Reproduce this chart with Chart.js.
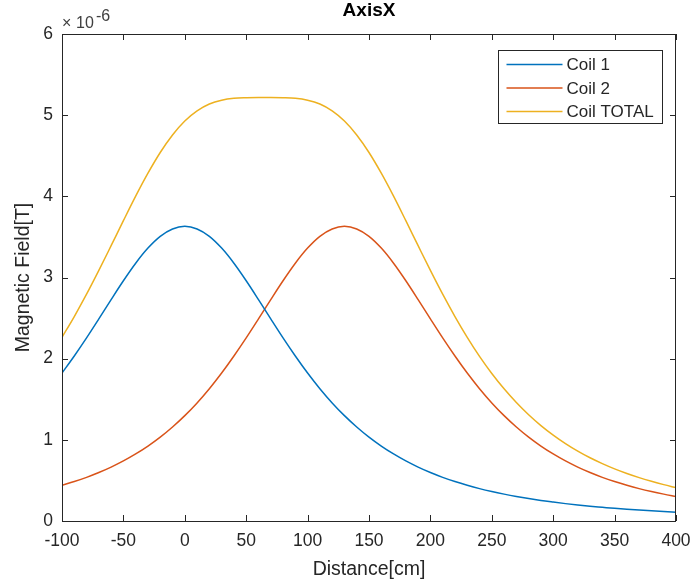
<!DOCTYPE html>
<html>
<head>
<meta charset="utf-8">
<script src="https://cdn.jsdelivr.net/npm/chart.js@4/dist/chart.umd.min.js"></script>
<style>
  html, body { margin: 0; padding: 0; background: #fff; }
  canvas { display: block; }
</style>
</head>
<body>
<canvas id="chart" width="695" height="586"></canvas>
<script>
// distance along the axis [cm], field in units of 1e-6 T
const distance = [
  -100, -90, -80, -70, -60, -50, -40, -30, -20, -10,
  0, 10, 20, 30, 40, 50, 60, 70, 80, 90,
  100, 110, 120, 130, 140, 150, 160, 170, 180, 190,
  200, 210, 220, 230, 240, 250, 260, 270, 280, 290,
  300, 310, 320, 330, 340, 350, 360, 370, 380, 390, 400,
];
const coil1 = [
  1.823, 2.033, 2.256, 2.490, 2.728, 2.960, 3.176, 3.362, 3.507, 3.598,
  3.630, 3.598, 3.507, 3.362, 3.176, 2.960, 2.728, 2.490, 2.256, 2.033,
  1.823, 1.630, 1.455, 1.298, 1.158, 1.033, 0.923, 0.826, 0.740, 0.664,
  0.597, 0.538, 0.486, 0.440, 0.399, 0.363, 0.331, 0.302, 0.276, 0.253,
  0.233, 0.214, 0.197, 0.182, 0.169, 0.156, 0.145, 0.135, 0.126, 0.117, 0.109,
];
const coil2 = [
  0.440, 0.486, 0.538, 0.597, 0.664, 0.740, 0.826, 0.923, 1.033, 1.158,
  1.298, 1.455, 1.630, 1.823, 2.033, 2.256, 2.490, 2.728, 2.960, 3.176,
  3.362, 3.507, 3.598, 3.630, 3.598, 3.507, 3.362, 3.176, 2.960, 2.728,
  2.490, 2.256, 2.033, 1.823, 1.630, 1.455, 1.298, 1.158, 1.033, 0.923,
  0.826, 0.740, 0.664, 0.597, 0.538, 0.486, 0.440, 0.399, 0.363, 0.331, 0.302,
];
const coilTotal = [
  2.263, 2.519, 2.794, 3.087, 3.392, 3.700, 4.002, 4.285, 4.540, 4.756,
  4.928, 5.053, 5.137, 5.185, 5.209, 5.216, 5.218, 5.218, 5.216, 5.209,
  5.185, 5.137, 5.053, 4.928, 4.756, 4.540, 4.285, 4.002, 3.700, 3.392,
  3.087, 2.794, 2.519, 2.263, 2.029, 1.818, 1.629, 1.460, 1.309, 1.176,
  1.059, 0.954, 0.861, 0.779, 0.707, 0.642, 0.585, 0.534, 0.489, 0.448, 0.411,
];

const seriesLabels = ['Coil 1', 'Coil 2', 'Coil TOTAL'];
const seriesColors = ['#0072BD', '#D95319', '#EDB120'];
const seriesValues = [coil1, coil2, coilTotal];

const AXIS_COLOR = '#262626';
const FONT = '"Liberation Sans", Arial, Helvetica, sans-serif';

const toPoints = (values) => distance.map((x, i) => ({ x, y: values[i] }));

// white page, MATLAB style box with inward ticks, exponent label, title and legend
const matlabAxes = {
  id: 'matlabAxes',
  beforeDraw(chart) {
    const { ctx } = chart;
    ctx.save();
    ctx.fillStyle = '#fff';
    ctx.fillRect(0, 0, chart.width, chart.height);
    ctx.restore();
  },
  afterDraw(chart) {
    const { ctx, chartArea: area } = chart;
    const xScale = chart.scales.x;
    const yScale = chart.scales.y;
    const tick = 6;

    ctx.save();
    ctx.strokeStyle = AXIS_COLOR;
    ctx.lineWidth = 1;
    ctx.beginPath();
    xScale.ticks.forEach((t) => {
      const px = Math.round(xScale.getPixelForValue(t.value)) + 0.5;
      ctx.moveTo(px, area.bottom);
      ctx.lineTo(px, area.bottom - tick);
      ctx.moveTo(px, area.top);
      ctx.lineTo(px, area.top + tick);
    });
    yScale.ticks.forEach((t) => {
      const py = Math.round(yScale.getPixelForValue(t.value)) + 0.5;
      ctx.moveTo(area.left, py);
      ctx.lineTo(area.left + tick, py);
      ctx.moveTo(area.right, py);
      ctx.lineTo(area.right - tick, py);
    });
    ctx.stroke();
    ctx.strokeRect(area.left + 0.5, area.top + 0.5, area.right - area.left - 1, area.bottom - area.top);

    // exponent label
    ctx.fillStyle = '#404040';
    ctx.textBaseline = 'alphabetic';
    ctx.textAlign = 'left';
    ctx.font = `16px ${FONT}`;
    ctx.fillText('\u00d7', area.left, area.top - 6);
    ctx.fillText('10', area.left + 14, area.top - 6);
    ctx.fillText('-6', area.left + 34, area.top - 13);

    // title
    ctx.fillStyle = '#000';
    ctx.textAlign = 'center';
    ctx.textBaseline = 'middle';
    ctx.font = `bold 19px ${FONT}`;
    ctx.fillText('AxisX', (area.left + area.right) / 2, 11);

    // legend box, top right inside the axes
    const lw = 164;
    const lh = 73;
    const lx = Math.round(area.right - 14 - lw) + 0.5;
    const ly = Math.round(area.top + 16) + 0.5;
    ctx.fillStyle = '#fff';
    ctx.fillRect(lx, ly, lw, lh);
    ctx.strokeStyle = AXIS_COLOR;
    ctx.strokeRect(lx, ly, lw, lh);
    ctx.font = `17px ${FONT}`;
    ctx.textAlign = 'left';
    chart.data.datasets.forEach((ds, i) => {
      const rowY = ly + 14 + i * 23.5;
      ctx.strokeStyle = ds.borderColor;
      ctx.lineWidth = 1.5;
      ctx.beginPath();
      ctx.moveTo(lx + 8, rowY);
      ctx.lineTo(lx + 64, rowY);
      ctx.stroke();
      ctx.fillStyle = AXIS_COLOR;
      ctx.fillText(ds.label, lx + 68, rowY + 1);
    });
    ctx.restore();
  },
};

new Chart(document.getElementById('chart'), {
  type: 'line',
  data: {
    datasets: seriesValues.map((values, i) => ({
      label: seriesLabels[i],
      data: toPoints(values),
      borderColor: seriesColors[i],
      backgroundColor: seriesColors[i],
      borderWidth: 1.5,
      pointRadius: 0,
      cubicInterpolationMode: 'monotone',
      fill: false,
    })),
  },
  options: {
    responsive: false,
    animation: false,
    events: [],
    layout: { padding: { top: 34, right: 19, left: 0, bottom: 0 } },
    plugins: {
      legend: { display: false },
      title: { display: false },
      tooltip: { enabled: false },
    },
    scales: {
      x: {
        type: 'linear',
        min: -100,
        max: 400,
        afterFit(scale) {
          scale.height = 65;
          scale.paddingLeft = 0;
          scale.paddingRight = 0;
        },
        ticks: {
          stepSize: 50,
          color: AXIS_COLOR,
          padding: 10,
          maxRotation: 0,
          font: { family: FONT, size: 17.5 },
        },
        grid: { display: false, drawTicks: false },
        border: { display: false },
        title: {
          display: true,
          text: 'Distance[cm]',
          color: AXIS_COLOR,
          font: { family: FONT, size: 19.5 },
          padding: { top: 0, bottom: 5 },
        },
      },
      y: {
        min: 0,
        max: 6,
        afterFit(scale) {
          scale.width = 62;
          scale.paddingTop = 0;
          scale.paddingBottom = 0;
        },
        ticks: {
          stepSize: 1,
          color: AXIS_COLOR,
          padding: 9,
          font: { family: FONT, size: 17.5 },
        },
        grid: { display: false, drawTicks: false },
        border: { display: false },
        title: {
          display: true,
          text: 'Magnetic Field[T]',
          color: AXIS_COLOR,
          font: { family: FONT, size: 19.5 },
          padding: { top: 12, bottom: 0 },
        },
      },
    },
  },
  plugins: [matlabAxes],
});
</script>
</body>
</html>
